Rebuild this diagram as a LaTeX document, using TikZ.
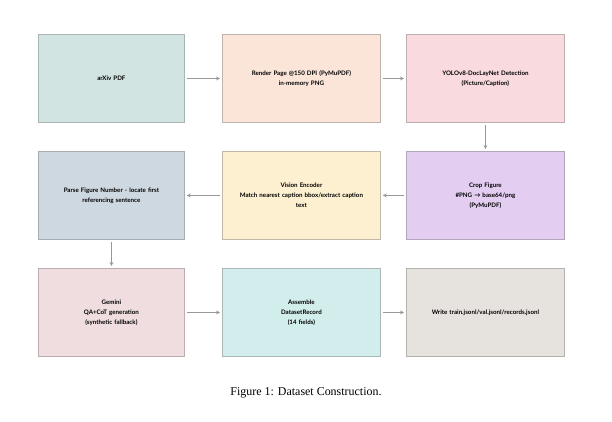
\documentclass[tikz,border=0pt]{standalone}
\usepackage{fontspec}
\setsansfont{Lato}
\newfontfamily\capfont{Liberation Serif}
\usetikzlibrary{arrows.meta}
\begin{document}
\begin{tikzpicture}[x=1bp,y=-1bp,
 box/.style={draw=#1!70!black!80,line width=0.8pt,minimum width=146bp,minimum height=88bp,inner sep=2pt,align=center,font=\sffamily\bfseries\fontsize{6.2}{10}\selectfont,text width=150bp,anchor=north west},
 arr/.style={draw=gray!80,line width=0.8pt,-{Stealth[length=4pt,width=4pt]}}]
\useasboundingbox[fill=white] (0,0) rectangle (612,421);
\definecolor{c1}{HTML}{D2E4E2}\definecolor{c2}{HTML}{FAE5D8}\definecolor{c3}{HTML}{F8DADF}
\definecolor{c4}{HTML}{E3CEF2}\definecolor{c5}{HTML}{FCF0D0}\definecolor{c6}{HTML}{CED8E0}
\definecolor{c7}{HTML}{EFDDE0}\definecolor{c8}{HTML}{D2EEEC}\definecolor{c9}{HTML}{E6E2DE}
\node[box=c1,fill=c1,text width=140bp] (a) at (38,34) {arXiv PDF};
\node[box=c2,fill=c2,minimum width=158bp] (b) at (222,34) {Render Page @150 DPI (PyMuPDF)\\in-memory PNG};
\node[box=c3,fill=c3,minimum width=158bp] (c) at (406,34) {YOLOv8-DocLayNet Detection\\(Picture/Caption)};
\node[box=c4,fill=c4,minimum width=158bp] (d) at (406,151) {Crop Figure\\\#PNG \textrightarrow{} base64/png\\(PyMuPDF)};
\node[box=c5,fill=c5,minimum width=158bp] (e) at (222,151) {Vision Encoder\\Match nearest caption bbox/extract caption\\text};
\node[box=c6,fill=c6,text width=140bp] (f) at (38,151) {Parse Figure Number - locate first\\referencing sentence};
\node[box=c7,fill=c7,text width=140bp] (g) at (38,268) {Gemini\\QA+CoT generation\\(synthetic fallback)};
\node[box=c8,fill=c8,minimum width=158bp] (h) at (222,268) {Assemble\\DatasetRecord\\(14 fields)};
\node[box=c9,fill=c9,minimum width=158bp] (i) at (406,268) {Write train.jsonl/val.jsonl/records.jsonl};
\draw[arr] ([xshift=2bp]a.east) -- ([xshift=-2bp]b.west);
\draw[arr] ([xshift=2bp]b.east) -- ([xshift=-2bp]c.west);
\draw[arr] ([yshift=-2bp]c.south) -- ([yshift=2bp]d.north);
\draw[arr] ([xshift=-2bp]d.west) -- ([xshift=2bp]e.east);
\draw[arr] ([xshift=-2bp]e.west) -- ([xshift=2bp]f.east);
\draw[arr] ([yshift=-2bp]f.south) -- ([yshift=2bp]g.north);
\draw[arr] ([xshift=2bp]g.east) -- ([xshift=-2bp]h.west);
\draw[arr] ([xshift=2bp]h.east) -- ([xshift=-2bp]i.west);
\node[font=\capfont\fontsize{12}{14}\selectfont] (cap) at (306,393) {Figure 1: Dataset Construction.};
\end{tikzpicture}
\end{document}
